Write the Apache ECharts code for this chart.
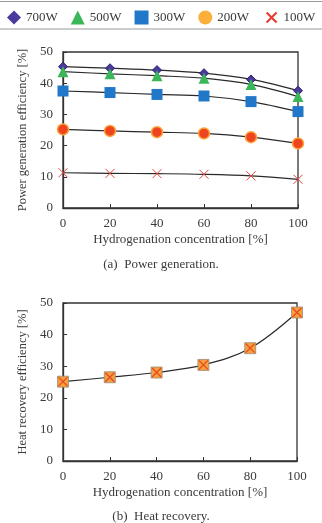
<!DOCTYPE html>
<html>
<head>
<meta charset="utf-8">
<script src="https://cdn.jsdelivr.net/npm/echarts@6/dist/echarts.min.js"></script>
<style>
  html, body { margin: 0; padding: 0; background: #fff; }
  #chart { width: 322px; height: 523px; }
</style>
</head>
<body>
<div id="chart"></div>
<script>
// hydrogenation concentration [%]
const concentration = [0, 20, 40, 60, 80, 100];
// power generation efficiency [%] per output
const eff700 = [45.3, 44.8, 44.2, 43.2, 41.2, 37.6];
const eff500 = [43.7, 43.0, 42.4, 41.6, 39.6, 35.7];
const eff300 = [37.5, 37.0, 36.4, 35.9, 34.1, 30.9];
const eff200 = [25.2, 24.7, 24.3, 23.9, 22.7, 20.7];
const eff100 = [11.3, 11.1, 11.0, 10.8, 10.3, 9.2];
// heat recovery efficiency [%]
const heatRecovery = [25.1, 26.5, 28.0, 30.4, 35.7, 47.0];

const yTicks = [0, 10, 20, 30, 40, 50];
const xTicks = [0, 20, 40, 60, 80, 100];

const FONT = '"Liberation Serif", "DejaVu Serif", serif';
const TXT = '#3a3a3a';
const CROSS = 'path://M0,0L10,10M10,0L0,10';

function pairs(vals) {
  return concentration.map((c, i) => [c, vals[i]]);
}

function xAxisOpt(idx) {
  return {
    gridIndex: idx, type: 'value', min: xTicks[0], max: xTicks[xTicks.length - 1], interval: 20,
    name: 'Hydrogenation concentration [%]', nameLocation: 'middle', nameGap: 25,
    nameTextStyle: { fontFamily: FONT, fontSize: 13, color: TXT },
    axisLine: { lineStyle: { color: '#333', width: 1.3 } },
    axisTick: { inside: true, length: 4, lineStyle: { color: '#333' } },
    axisLabel: { fontFamily: FONT, fontSize: 13, color: TXT, margin: 9 },
    splitLine: { show: false }
  };
}

function yAxisOpt(idx, name) {
  return {
    gridIndex: idx, type: 'value', min: yTicks[0], max: yTicks[yTicks.length - 1], interval: 10,
    name: name, nameLocation: 'middle', nameGap: 34,
    nameTextStyle: { fontFamily: FONT, fontSize: 12.5, color: TXT },
    axisLine: { show: true, lineStyle: { color: '#333', width: 1.3 } },
    axisTick: { show: true, inside: true, length: 4, lineStyle: { color: '#333' } },
    axisLabel: { fontFamily: FONT, fontSize: 13, color: TXT, margin: 10 },
    splitLine: { show: false }
  };
}

function lineSeries(name, vals, symbol, size, itemStyle, gi) {
  return {
    name: name, type: 'line', xAxisIndex: gi || 0, yAxisIndex: gi || 0,
    data: pairs(vals), smooth: 0.35, clip: false,
    symbol: symbol, symbolSize: size, showAllSymbol: true,
    lineStyle: { color: '#2a2a2a', width: 1.2 },
    itemStyle: itemStyle,
    emphasis: { disabled: true }
  };
}

const chart = echarts.init(document.getElementById('chart'));
chart.setOption({
  animation: false,
  backgroundColor: '#fff',
  legend: {
    left: 7, top: 8, width: 400, padding: 0, itemWidth: 14, itemHeight: 14, itemGap: 13,
    textStyle: { fontFamily: FONT, fontSize: 13, color: TXT },
    data: [
      { name: '700W', icon: 'diamond', itemStyle: { color: '#4b3a9c', borderWidth: 0 } },
      { name: '500W', icon: 'triangle', itemStyle: { color: '#3bb75a', borderWidth: 0 } },
      { name: '300W', icon: 'rect', itemStyle: { color: '#2178c8', borderWidth: 0 } },
      { name: '200W', icon: 'circle', itemStyle: { color: '#fbb03b', borderWidth: 0 } },
      { name: '100W', icon: 'path://M0,0M2,2L12,12M12,2L2,12M14,14', itemStyle: { color: 'none', borderColor: '#e63b2e', borderWidth: 2 } }
    ]
  },
  graphic: [
    { type: 'line', shape: { x1: 0, y1: 1.5, x2: 322, y2: 1.5 }, style: { stroke: '#999', lineWidth: 1 } },
    { type: 'line', shape: { x1: 0, y1: 29, x2: 322, y2: 29 }, style: { stroke: '#999', lineWidth: 1 } }
  ],
  title: [
    { text: '(a)  Power generation.', left: 'center', top: 258, padding: 0,
      textStyle: { fontFamily: FONT, fontSize: 13, fontWeight: 'normal', color: TXT } },
    { text: '(b)  Heat recovery.', left: 'center', top: 510, padding: 0,
      textStyle: { fontFamily: FONT, fontSize: 13, fontWeight: 'normal', color: TXT } }
  ],
  grid: [
    { left: 63, right: 24, top: 52, height: 156, show: true, borderColor: '#333', borderWidth: 1.3, backgroundColor: 'transparent' },
    { left: 63, right: 25, top: 303, height: 158, show: true, borderColor: '#333', borderWidth: 1.3, backgroundColor: 'transparent' }
  ],
  xAxis: [xAxisOpt(0), xAxisOpt(1)],
  yAxis: [
    yAxisOpt(0, 'Power generation efficiency [%]'),
    yAxisOpt(1, 'Heat recovery efficiency [%]')
  ],
  series: [
    lineSeries('700W', eff700, 'diamond', 9, { color: '#4b3a9c', borderColor: '#2a2170', borderWidth: 1 }),
    lineSeries('500W', eff500, 'triangle', 11, { color: '#3bb75a' }),
    lineSeries('300W', eff300, 'rect', 11, { color: '#2178c8' }),
    lineSeries('200W', eff200, 'circle', 11, { color: '#ee4420', borderColor: '#fba43a', borderWidth: 1.5 }),
    lineSeries('100W', eff100, CROSS, 9, { color: 'none', borderColor: '#e0443a', borderWidth: 1 }),
    lineSeries('heat', heatRecovery, 'rect', 11, { color: '#f5a03a', borderColor: '#9a8a7a', borderWidth: 0.8 }, 1),
    Object.assign(lineSeries('heatX', heatRecovery, CROSS, 9, { color: 'none', borderColor: '#e8452a', borderWidth: 1.2 }, 1),
      { lineStyle: { width: 0 }, smooth: false })
  ]
});
</script>
</body>
</html>
